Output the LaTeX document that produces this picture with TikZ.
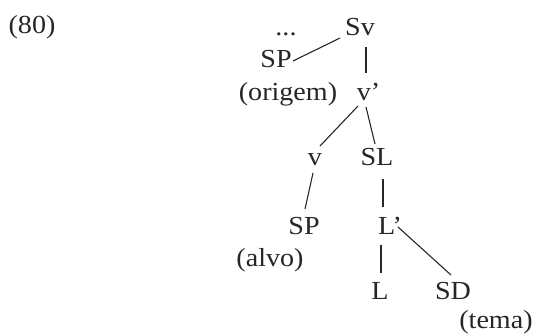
\documentclass[tikz,border=0pt]{standalone}
\usepackage{fontspec}
\setmainfont{Liberation Serif}[FakeStretch=1.08]
\begin{document}
\begin{tikzpicture}[x=1bp,y=-1bp,
  lbl/.style={anchor=base,inner sep=0pt,font=\fontsize{26bp}{30bp}\selectfont,text=black!85},
  edge/.style={line width=1.1bp,draw=black!85}]
\useasboundingbox (0,0) rectangle (534,335);
\node[lbl] (ex) at (32,33) {(80)};
\node[lbl] (dots) at (286,35) {...};
\node[lbl] (Sv) at (360,35) {Sv};
\node[lbl] (SPa) at (276,67) {SP};
\node[lbl] (orig) at (288,100) {(origem)};
\node[lbl] (vbar) at (368.5,100) {v’};
\node[lbl] (v) at (315,165) {v};
\node[lbl] (SL) at (377,165) {SL};
\node[lbl] (SPb) at (304,234) {SP};
\node[lbl] (alvo) at (270,266) {(alvo)};
\node[lbl] (Lbar) at (390,234) {L’};
\node[lbl] (L) at (380,299) {L};
\node[lbl] (SD) at (453,299) {SD};
\node[lbl] (tema) at (496,328) {(tema)};
\draw[edge] ([shift={(17,-6)}]SPa.base) -- ([shift={(-20,3)}]Sv.base);
\draw[edge] ([shift={(6,12)}]Sv.base) -- ([shift={(-2.5,-27)}]vbar.base);
\draw[edge] ([shift={(-10.5,6)}]vbar.base) -- ([shift={(5,-19)}]v.base);
\draw[edge] ([shift={(-2.5,7)}]vbar.base) -- ([shift={(-2,-21)}]SL.base);
\draw[edge] ([shift={(-2,8)}]v.base) -- ([shift={(1,-25)}]SPb.base);
\draw[edge] ([shift={(6,14)}]SL.base) -- ([shift={(-7,-27)}]Lbar.base);
\draw[edge] ([shift={(8,-7)}]Lbar.base) -- ([shift={(-2,-24)}]SD.base);
\draw[edge] ([shift={(-9,11)}]Lbar.base) -- ([shift={(1,-26)}]L.base);
\end{tikzpicture}
\end{document}
